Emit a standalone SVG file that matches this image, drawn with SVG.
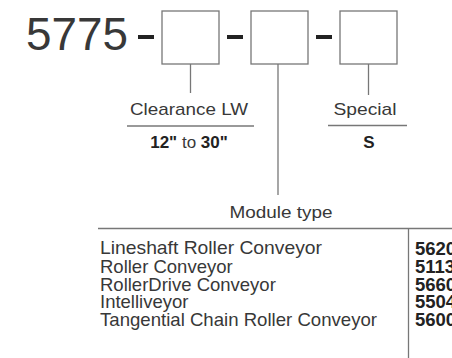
<svg xmlns="http://www.w3.org/2000/svg" width="452" height="358" viewBox="0 0 452 358">
<style>
text{font-family:"Liberation Sans",Arial,sans-serif;fill:#383838}
.lbl{font-size:17px}
.row{font-size:18.5px}
.b{font-weight:bold;fill:#222}
.box{fill:#fff;stroke:#777;stroke-width:1.3}
.ln{stroke:#777;stroke-width:1.3;fill:none}
.dash{fill:#222}
</style>
<rect width="452" height="358" fill="#fff"/>
<g id="code">
<text x="26" y="50" font-size="46" textLength="102" lengthAdjust="spacingAndGlyphs">5775</text>
<rect class="dash" x="138" y="35" width="16" height="4"/>
<rect class="dash" x="227" y="35" width="16" height="4"/>
<rect class="dash" x="316" y="35" width="16" height="4"/>
</g>
<g id="box-clearance"><rect class="box" x="162" y="11" width="57" height="53"/></g>
<g id="box-module"><rect class="box" x="251" y="11" width="57" height="53"/></g>
<g id="box-special"><rect class="box" x="340" y="11" width="57" height="53"/></g>
<g id="connectors">
<line class="ln" x1="190.5" y1="64" x2="190.5" y2="93"/>
<line class="ln" x1="278" y1="64" x2="278" y2="195"/>
<line class="ln" x1="368.5" y1="64" x2="368.5" y2="95"/>
</g>
<g id="clearance">
<text class="lbl" x="189" y="115" text-anchor="middle" font-size="18" textLength="118" lengthAdjust="spacingAndGlyphs">Clearance LW</text>
<line class="ln" x1="127" y1="126" x2="254" y2="126"/>
<text class="lbl" x="189" y="148" text-anchor="middle" font-size="18.5"><tspan class="b">12"</tspan> to <tspan class="b">30"</tspan></text>
</g>
<g id="special">
<text class="lbl" x="365" y="115" text-anchor="middle" font-size="18" textLength="63" lengthAdjust="spacingAndGlyphs">Special</text>
<line class="ln" x1="328" y1="125.5" x2="407" y2="125.5"/>
<text class="lbl b" x="369" y="148" text-anchor="middle" font-size="18">S</text>
</g>
<g id="module-type">
<text class="lbl" x="281" y="218" text-anchor="middle" textLength="103" lengthAdjust="spacingAndGlyphs">Module type</text>
<line class="ln" x1="98" y1="228.5" x2="452" y2="228.5"/>
<line class="ln" x1="408.5" y1="228" x2="408.5" y2="358"/>
<text class="row" x="100" y="254" textLength="222" lengthAdjust="spacingAndGlyphs">Lineshaft Roller Conveyor</text>
<text class="row" x="100" y="273">Roller Conveyor</text>
<text class="row" x="100" y="291">RollerDrive Conveyor</text>
<text class="row" x="100" y="308">Intelliveyor</text>
<text class="row" x="100" y="326" textLength="277" lengthAdjust="spacingAndGlyphs">Tangential Chain Roller Conveyor</text>
<text class="row b" x="415" y="255" font-size="18">5620</text>
<text class="row b" x="415" y="273" font-size="18">5113</text>
<text class="row b" x="415" y="291" font-size="18">5660</text>
<text class="row b" x="415" y="308" font-size="18">5504</text>
<text class="row b" x="415" y="326" font-size="18">5600</text>
</g>
</svg>
